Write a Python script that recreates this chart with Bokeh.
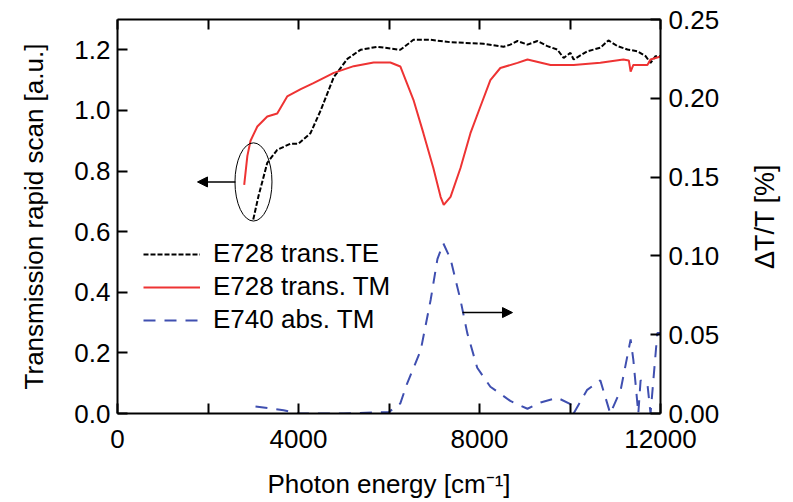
from bokeh.plotting import figure
from bokeh.layouts import row
from bokeh.models import (Range1d, LinearAxis, FixedTicker, Legend, LegendItem,
                          Arrow, NormalHead)
from bokeh.embed import file_html
from bokeh.resources import INLINE

# ---- data ----
te_x = [3000, 3120, 3310, 3530, 3820, 4000, 4265, 4490, 4780, 5080, 5370, 5740,
        6250, 6540, 6920, 7360, 8090, 8530, 8680, 8840, 9060, 9280, 9500, 9720,
        9860, 10010, 10080, 10380, 10670, 10850, 11050, 11270, 11490, 11670,
        11780, 11890, 12000]
te_y = [0.64, 0.72, 0.827, 0.87, 0.89, 0.89, 0.925, 1.0, 1.11, 1.17, 1.20, 1.21,
        1.20, 1.233, 1.233, 1.225, 1.22, 1.21, 1.217, 1.229, 1.217, 1.229, 1.212,
        1.201, 1.173, 1.19, 1.168, 1.195, 1.207, 1.231, 1.212, 1.201, 1.195,
        1.179, 1.157, 1.179, 1.179]

tm_x = [2800, 2870, 2940, 3090, 3310, 3530, 3750, 4050, 4330, 4780, 5220, 5660,
        6030, 6250, 6540, 6760, 6980, 7140, 7210, 7360, 7580, 7800, 8020, 8240,
        8460, 8840, 9060, 9570, 10080, 10670, 11180, 11300, 11340, 11400, 11710,
        11780, 12000]
tm_y = [0.754, 0.85, 0.90, 0.947, 0.98, 0.99, 1.046, 1.07, 1.09, 1.124, 1.146,
        1.158, 1.158, 1.145, 1.035, 0.925, 0.81, 0.715, 0.688, 0.715, 0.81, 0.925,
        1.013, 1.10, 1.14, 1.157, 1.168, 1.15, 1.15, 1.157, 1.168, 1.165, 1.128,
        1.15, 1.15, 1.168, 1.178]

abs_x = [3050, 3670, 4000, 5000, 6000, 6250, 6400, 6700, 6920, 7070, 7200, 7360,
         7580, 7730, 7950, 8240, 8680, 9060, 9350, 9720, 10010, 10080, 10380,
         10670, 10890, 11120, 11340, 11400, 11510, 11560, 11710, 11780, 11930,
         12000]
abs_y = [0.0045, 0.002, 0.0, 0.0, 0.001, 0.0064, 0.019, 0.040, 0.072, 0.098,
         0.108, 0.098, 0.072, 0.051, 0.029, 0.017, 0.008, 0.003, 0.007, 0.010,
         0.006, 0.0, 0.015, 0.021, 0.0, 0.015, 0.047, 0.034, 0.0, 0.021, 0.019,
         0.0, 0.051, 0.051]

x_major = [0, 4000, 8000, 12000]
x_minor = [2000, 6000, 10000]
yl_ticks = [0.0, 0.2, 0.4, 0.6, 0.8, 1.0, 1.2]
yr_ticks = [0.0, 0.05, 0.10, 0.15, 0.20, 0.25]

FONT = "Liberation Sans"
FS = "26px"

p = figure(width=745, height=502, output_backend="svg", toolbar_location=None,
           x_range=Range1d(0, 12000), y_range=Range1d(0, 1.3),
           min_border_left=117, min_border_right=85, min_border_top=19,
           min_border_bottom=89)
p.grid.visible = False
p.outline_line_color = None
p.background_fill_color = "white"
p.border_fill_color = "white"

p.extra_y_ranges = {"r": Range1d(0, 0.25)}


def style(ax):
    ax.axis_line_width = 2
    ax.axis_line_color = "black"
    ax.major_tick_in = 10
    ax.major_tick_out = 0
    ax.minor_tick_in = 10
    ax.minor_tick_out = 0
    ax.major_tick_line_width = 2
    ax.minor_tick_line_width = 2
    ax.minor_tick_line_color = "black"
    ax.major_label_text_font = FONT
    ax.major_label_text_font_size = FS
    ax.major_label_text_color = "black"
    ax.axis_label_text_font = FONT
    ax.axis_label_text_font_size = FS
    ax.axis_label_text_font_style = "normal"
    ax.axis_label_text_color = "black"


xa = p.xaxis[0]
style(xa)
xa.ticker = FixedTicker(ticks=x_major, minor_ticks=x_minor)
xa.axis_label = "Photon energy [cm\u207b\u00b9]"
xa.major_label_standoff = 16
xa.axis_label_standoff = 18

ya = p.yaxis[0]
style(ya)
ya.ticker = FixedTicker(ticks=yl_ticks)
ya.major_label_overrides = {t: f"{t:.1f}" for t in yl_ticks}
ya.minor_tick_in = 0
ya.axis_label = "Transmission rapid scan [a.u.]"
ya.major_label_standoff = 7
ya.axis_label_standoff = 22

ra = LinearAxis(y_range_name="r")
style(ra)
ra.ticker = FixedTicker(ticks=yr_ticks)
ra.major_label_overrides = {t: f"{t:.2f}" for t in yr_ticks}
ra.minor_tick_in = 0
ra.major_label_standoff = 8
p.add_layout(ra, "right")

ta = LinearAxis()
style(ta)
ta.ticker = FixedTicker(ticks=[], minor_ticks=x_major + x_minor)
ta.major_label_standoff = 0
p.add_layout(ta, "above")

r_te = p.line(te_x, te_y, line_color="black", line_width=2, line_dash="5 2")
r_tm = p.line(tm_x, tm_y, line_color="#ee3333", line_width=2)
r_abs = p.line(abs_x, abs_y, line_color="#3f4fb0", line_width=2, line_dash="12 9",
               y_range_name="r")

legend = Legend(items=[LegendItem(label="E728 trans.TE", renderers=[r_te]),
                       LegendItem(label="E728 trans. TM", renderers=[r_tm]),
                       LegendItem(label="E740 abs. TM", renderers=[r_abs])],
                location=(26, 78), orientation="vertical",
                background_fill_alpha=0, border_line_color=None,
                label_text_font=FONT, label_text_font_size=FS,
                label_text_color="black",
                glyph_width=57, glyph_height=20, label_standoff=13,
                spacing=2, padding=0, margin=0, label_height=30)
p.add_layout(legend, "center")

# annotations: circle marking start region and arrows pointing to axes
p.ellipse(x=[3005], y=[0.764], width=[818], height=[0.258], fill_color=None,
          line_color="black", line_width=1)
p.add_layout(Arrow(end=NormalHead(size=10, fill_color="black", line_color="black"),
                   x_start=2608, y_start=0.764, x_end=1768, y_end=0.764,
                   line_width=1.5, line_color="black"))
p.add_layout(Arrow(end=NormalHead(size=10, fill_color="black", line_color="black"),
                   x_start=7624, y_start=0.333, x_end=8729, y_end=0.333,
                   line_width=1.5, line_color="black"))

# narrow companion figure carrying the right-hand title (reads bottom-to-top)
p2 = figure(width=48, height=502, output_backend="svg", toolbar_location=None,
            x_range=Range1d(0, 1), y_range=Range1d(0, 0.25),
            min_border_left=40, min_border_right=0, min_border_top=19,
            min_border_bottom=89)
p2.grid.visible = False
p2.outline_line_color = None
p2.border_fill_color = "white"
p2.xaxis.visible = False
ax2 = p2.yaxis[0]
ax2.ticker = FixedTicker(ticks=[])
ax2.axis_line_color = None
ax2.major_tick_in = 0
ax2.major_tick_out = 0
ax2.minor_tick_in = 0
ax2.minor_tick_out = 0
ax2.major_label_standoff = 0
ax2.axis_label = "\u0394T/T [%]"
ax2.axis_label_text_font = FONT
ax2.axis_label_text_font_size = "27px"
ax2.axis_label_text_font_style = "normal"
ax2.axis_label_text_color = "black"
ax2.axis_label_standoff = 6

layout = row(p, p2, spacing=0)
open("out.html", "w").write(file_html(layout, INLINE))
